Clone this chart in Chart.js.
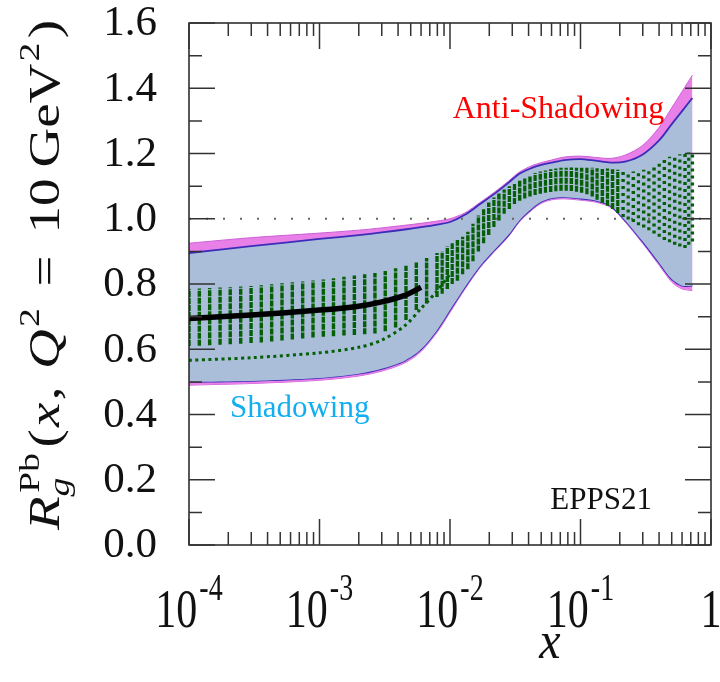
<!DOCTYPE html>
<html>
<head>
<meta charset="utf-8">
<script src="https://cdn.jsdelivr.net/npm/chart.js@4.4.1/dist/chart.umd.min.js"></script>
<style>
  html, body { margin: 0; padding: 0; background: #fff; }
  canvas { display: block; }
</style>
</head>
<body>
<canvas id="c" width="720" height="682"></canvas>
<script>
// ---------------- data ----------------
const bandX = [1e-4, 3e-4, 1e-3, 2e-3, 3e-3, 4.5e-3, 6e-3, 8e-3, 1e-2, 1.3e-2, 1.7e-2, 2.2e-2, 2.8e-2, 3.4e-2, 4.2e-2, 5e-2, 6e-2, 7.5e-2, 0.1, 0.13, 0.17, 0.22, 0.3, 0.4, 0.5, 0.6, 0.72];
const outerUpper = [0.925, 0.942, 0.956, 0.965, 0.972, 0.980, 0.986, 0.993, 1.000, 1.018, 1.050, 1.082, 1.115, 1.143, 1.162, 1.172, 1.180, 1.189, 1.192, 1.188, 1.185, 1.195, 1.225, 1.280, 1.340, 1.390, 1.440];
const innerUpper = [0.895, 0.916, 0.938, 0.950, 0.958, 0.967, 0.974, 0.982, 0.990, 1.012, 1.045, 1.077, 1.110, 1.138, 1.155, 1.165, 1.172, 1.180, 1.183, 1.178, 1.172, 1.175, 1.197, 1.240, 1.290, 1.330, 1.370];
const innerLower = [0.500, 0.503, 0.512, 0.525, 0.540, 0.565, 0.600, 0.660, 0.720, 0.790, 0.855, 0.905, 0.950, 0.995, 1.030, 1.052, 1.063, 1.066, 1.062, 1.056, 1.040, 0.995, 0.930, 0.865, 0.815, 0.795, 0.795];
const outerLower = [0.490, 0.495, 0.505, 0.518, 0.533, 0.558, 0.593, 0.653, 0.713, 0.784, 0.850, 0.900, 0.945, 0.990, 1.025, 1.047, 1.058, 1.061, 1.057, 1.051, 1.035, 0.990, 0.924, 0.858, 0.806, 0.785, 0.780];

const centralX = [1e-4, 3e-4, 1e-3, 2e-3, 3e-3, 4.5e-3, 6e-3, 8e-3, 1e-2, 1.5e-2, 2.2e-2, 3.4e-2, 5e-2, 7.5e-2, 0.1, 0.15, 0.22, 0.3, 0.4, 0.5, 0.72];
const centralY = [0.694, 0.705, 0.720, 0.732, 0.745, 0.765, 0.790, 0.820, 0.850, 0.920, 1.000, 1.080, 1.115, 1.125, 1.120, 1.100, 1.080, 1.065, 1.055, 1.050, 1.050];

// replica spread at each x grid column
const colX = [1.00e-4, 1.20e-4, 1.44e-4, 1.73e-4, 2.07e-4, 2.49e-4, 2.99e-4, 3.58e-4, 4.30e-4, 5.16e-4, 6.19e-4, 7.43e-4, 8.92e-4, 1.07e-3, 1.28e-3, 1.54e-3, 1.85e-3, 2.22e-3, 2.66e-3, 3.19e-3, 3.83e-3, 4.60e-3, 5.52e-3, 6.62e-3, 7.95e-3, 9.54e-3, 1.14e-2, 1.37e-2, 1.65e-2, 1.98e-2, 2.37e-2, 2.85e-2, 3.42e-2, 4.10e-2, 4.92e-2, 5.91e-2, 7.09e-2, 8.51e-2, 0.102, 0.123, 0.147, 0.176, 0.212, 0.254, 0.305, 0.366, 0.439, 0.527, 0.632, 0.720];
const colLow  = [0.610, 0.611, 0.612, 0.614, 0.615, 0.617, 0.619, 0.621, 0.624, 0.627, 0.630, 0.633, 0.636, 0.638, 0.640, 0.642, 0.644, 0.646, 0.648, 0.655, 0.667, 0.690, 0.720, 0.740, 0.760, 0.785, 0.810, 0.845, 0.900, 0.950, 0.995, 1.030, 1.055, 1.068, 1.077, 1.082, 1.086, 1.085, 1.080, 1.068, 1.048, 1.030, 1.005, 0.990, 0.973, 0.955, 0.935, 0.920, 0.910, 0.930];
const colHigh = [0.785, 0.786, 0.788, 0.789, 0.790, 0.792, 0.794, 0.796, 0.799, 0.802, 0.805, 0.808, 0.811, 0.814, 0.818, 0.822, 0.826, 0.830, 0.834, 0.840, 0.848, 0.856, 0.866, 0.880, 0.895, 0.915, 0.935, 0.960, 1.010, 1.050, 1.080, 1.100, 1.117, 1.132, 1.145, 1.152, 1.156, 1.157, 1.156, 1.156, 1.155, 1.152, 1.148, 1.145, 1.150, 1.165, 1.185, 1.195, 1.200, 1.205];

// denser replica cloud at larger x (between the grid columns above)
const col2X = [8.71e-3, 1.04e-2, 1.25e-2, 1.50e-2, 1.81e-2, 2.17e-2, 2.60e-2, 3.12e-2, 3.74e-2, 4.49e-2, 5.39e-2, 6.47e-2, 7.77e-2, 9.32e-2, 0.112, 0.134, 0.161, 0.193, 0.232, 0.278, 0.334, 0.401, 0.481, 0.577, 0.675];
const col2Low  = [0.770, 0.800, 0.830, 0.870, 0.925, 0.975, 1.015, 1.045, 1.062, 1.073, 1.080, 1.084, 1.086, 1.083, 1.075, 1.058, 1.040, 1.018, 0.998, 0.980, 0.965, 0.945, 0.928, 0.915, 0.920];
const col2High = [0.900, 0.925, 0.945, 0.985, 1.030, 1.065, 1.090, 1.108, 1.125, 1.140, 1.148, 1.154, 1.156, 1.156, 1.156, 1.155, 1.154, 1.150, 1.146, 1.147, 1.155, 1.175, 1.190, 1.198, 1.203];

// one outlying replica at small x
const outlierX = [1e-4, 3e-4, 1e-3, 2e-3, 3e-3, 4.5e-3, 6e-3, 8e-3, 1e-2];
const outlierY = [0.566, 0.574, 0.589, 0.606, 0.628, 0.672, 0.725, 0.780, 0.830];

const unityX = [1e-4, 1];
const unityY = [1, 1];

const yTickValues = [0, 0.2, 0.4, 0.6, 0.8, 1.0, 1.2, 1.4, 1.6];
const yTickLabels = ['0.0', '0.2', '0.4', '0.6', '0.8', '1.0', '1.2', '1.4', '1.6'];
const yMinorValues = [0.1, 0.3, 0.5, 0.7, 0.9, 1.1, 1.3, 1.5];
const xTickValues = [1e-4, 1e-3, 1e-2, 1e-1, 1];
const xTickBase = ['10', '10', '10', '10', '1'];
const xTickExp = ['-4', '-3', '-2', '-1', ''];
const xMinorMult = [2, 3, 4, 5, 6, 7, 8, 9];

const notes = [
  { text: 'Anti-Shadowing', x: 0.0105, y: 1.309, color: '#ff0000', align: 'left', size: 32 },
  { text: 'Shadowing', x: 2.06e-4, y: 0.392, color: '#12aef0', align: 'left', size: 31 },
  { text: 'EPPS21', x: 0.353, y: 0.110, color: '#111111', align: 'right', size: 31 }
];

// ---------------- build datasets ----------------
const pts = (xs, ys) => xs.map((x, i) => ({ x: x, y: ys[i] }));
const columns = (xs, lo, hi) => {
  const out = [];
  xs.forEach((x, i) => {
    out.push({ x: x, y: lo[i] });
    out.push({ x: x, y: hi[i] });
    out.push({ x: x, y: null });
  });
  return out;
};

const MAG = 'rgb(232,128,232)';
const BLUE = 'rgb(170,189,217)';
const EDGE = 'rgb(60,45,185)';
const GREEN = 'rgb(5,95,5)';

const base = { showLine: true, pointRadius: 0, pointHoverRadius: 0, tension: 0.3 };
const colDash = c => (c.p0.parsed.x > 0.2 ? [3, 4] : [6, 1]);

const datasets = [
  Object.assign({}, base, { data: pts(bandX, outerUpper), borderColor: 'rgb(205,95,215)', borderWidth: 1, backgroundColor: MAG, fill: '+1', order: 10 }),
  Object.assign({}, base, { data: pts(bandX, outerLower), borderColor: 'rgb(205,95,215)', borderWidth: 1, fill: false, order: 10 }),
  Object.assign({}, base, { data: pts(bandX, innerUpper), borderColor: EDGE, borderWidth: 1.8, backgroundColor: BLUE, fill: '+1', order: 9 }),
  Object.assign({}, base, { data: pts(bandX, innerLower), borderColor: EDGE, borderWidth: 1.8, fill: false, order: 9 }),
  Object.assign({}, base, { data: pts(unityX, unityY), borderColor: '#666', borderWidth: 2, borderDash: [2, 15], tension: 0, fill: false, order: 8 }),
  Object.assign({}, base, { data: columns(colX, colLow, colHigh), borderColor: GREEN, borderWidth: 3.4, tension: 0, spanGaps: false, fill: false, order: 5,
    segment: { borderDash: colDash } }),
  Object.assign({}, base, { data: columns(col2X, col2Low, col2High), borderColor: GREEN, borderWidth: 3.2, tension: 0, spanGaps: false, fill: false, order: 5,
    segment: { borderDash: colDash } }),
  Object.assign({}, base, { data: pts(outlierX, outlierY), borderColor: GREEN, borderWidth: 3, borderDash: [3, 3.5], fill: false, order: 5 }),
  Object.assign({}, base, { data: pts(centralX, centralY), borderColor: '#000', borderWidth: 5.5, fill: false, order: 1,
    segment: { borderColor: c => (c.p0.parsed.x >= 5e-3 ? 'rgba(0,0,0,0)' : '#000') } })
];

const SERIF = '"Liberation Serif", "Times New Roman", serif';

const overlay = {
  id: 'overlay',
  beforeDraw(chart) {
    const ctx = chart.ctx;
    ctx.save();
    ctx.fillStyle = '#fff';
    ctx.fillRect(0, 0, chart.width, chart.height);
    ctx.restore();
  },
  afterDatasetsDraw(chart) {
    const ctx = chart.ctx;
    const a = chart.chartArea;
    const xs = chart.scales.x, ys = chart.scales.y;
    ctx.save();

    // annotations
    notes.forEach(n => {
      ctx.font = n.size + 'px ' + SERIF;
      ctx.fillStyle = n.color;
      ctx.textAlign = n.align;
      ctx.textBaseline = 'alphabetic';
      ctx.fillText(n.text, xs.getPixelForValue(n.x), ys.getPixelForValue(n.y));
    });

    // frame
    ctx.strokeStyle = '#222';
    ctx.lineWidth = 1.5;
    ctx.strokeRect(a.left, a.top, a.right - a.left, a.bottom - a.top);

    // ticks (inward)
    ctx.strokeStyle = '#333';
    ctx.lineWidth = 1.5;
    ctx.beginPath();
    const yTick = (v, len) => {
      const p = ys.getPixelForValue(v);
      ctx.moveTo(a.left, p); ctx.lineTo(a.left + len, p);
      ctx.moveTo(a.right, p); ctx.lineTo(a.right - len, p);
    };
    const xTick = (v, len) => {
      const p = xs.getPixelForValue(v);
      ctx.moveTo(p, a.bottom); ctx.lineTo(p, a.bottom - len);
      ctx.moveTo(p, a.top); ctx.lineTo(p, a.top + len);
    };
    yTickValues.forEach(v => yTick(v, 26));
    yMinorValues.forEach(v => yTick(v, 13));
    xTickValues.forEach(v => xTick(v, 26));
    xTickValues.slice(0, -1).forEach(d => xMinorMult.forEach(m => xTick(d * m, 13)));
    ctx.stroke();

    // y tick labels
    ctx.fillStyle = '#111';
    ctx.font = '43px ' + SERIF;
    ctx.textAlign = 'right';
    ctx.textBaseline = 'middle';
    yTickValues.forEach((v, i) => ctx.fillText(yTickLabels[i], a.left - 32, ys.getPixelForValue(v) + 1));

    // x tick labels (10^n)
    ctx.textAlign = 'left';
    ctx.textBaseline = 'alphabetic';
    xTickValues.forEach((v, i) => {
      const p = xs.getPixelForValue(v);
      ctx.font = '42px ' + SERIF;
      const wb = ctx.measureText(xTickBase[i]).width;
      ctx.font = '28px ' + SERIF;
      const we = xTickExp[i] ? ctx.measureText(xTickExp[i]).width + 2 : 0;
      const x0 = p - (wb + we) / 2;
      ctx.save();
      ctx.translate(x0, a.bottom + 82);
      ctx.scale(1, 1.33);
      ctx.font = '42px ' + SERIF;
      ctx.fillText(xTickBase[i], 0, 0);
      if (xTickExp[i]) {
        ctx.font = '28px ' + SERIF;
        ctx.fillText(xTickExp[i], wb + 2, -20);
      }
      ctx.restore();
    });

    // x axis title
    ctx.save();
    ctx.font = 'italic 48px ' + SERIF;
    ctx.textAlign = 'center';
    ctx.translate(550, a.bottom + 113);
    ctx.scale(1, 1.1);
    ctx.fillText('x', 0, 0);
    ctx.restore();

    // y axis title: R_g^Pb(x, Q^2 = 10 GeV^2)
    const parts = [
      { t: 'R', f: 'italic 44px', dy: 0, gap: 0 },
      { t: 'g', f: 'italic 30px', dy: 10, stack: true, gap: 0 },
      { t: 'Pb', f: '30px', dy: -20, stackTop: true, gap: 0 },
      { t: '(', f: '44px', dy: 0, gap: 0.2 },
      { t: 'x', f: 'italic 44px', dy: 0, gap: 0.1 },
      { t: ',', f: '44px', dy: 0, gap: 0.1 },
      { t: 'Q', f: 'italic 44px', dy: 0, gap: 0.8 },
      { t: '2', f: '30px', dy: -20, gap: 0.1 },
      { t: '=', f: '44px', dy: 0, gap: 1 },
      { t: '10', f: '44px', dy: 0, gap: 1 },
      { t: 'GeV', f: '44px', dy: 0, gap: 0.5 },
      { t: '2', f: '30px', dy: -20, gap: 0.1 },
      { t: ')', f: '44px', dy: 0, gap: 0.2 }
    ];
    const sx = 1.25;
    const span = 510 / sx;
    const widths = [];
    let natural = 0, pend = 0, gapSum = 0;
    parts.forEach(pt => {
      ctx.font = pt.f + ' ' + SERIF;
      const w = ctx.measureText(pt.t).width;
      widths.push(w);
      gapSum += pt.gap;
      if (pt.stack) pend = w;
      else if (pt.stackTop) { natural += Math.max(pend, w + 3) + 1; pend = 0; }
      else natural += w;
    });
    const unit = Math.max(0, (span - natural) / gapSum);
    let cur = 0;
    const place = [];
    parts.forEach((pt, i) => {
      cur += pt.gap * unit;
      if (pt.stack) { place.push(cur); pend = widths[i]; }
      else if (pt.stackTop) { place.push(cur + 3); cur += Math.max(pend, widths[i] + 3) + 1; }
      else { place.push(cur); cur += widths[i]; }
    });
    ctx.save();
    ctx.translate(59, 530);
    ctx.rotate(-Math.PI / 2);
    ctx.scale(sx, 1);
    ctx.fillStyle = '#111';
    ctx.textAlign = 'left';
    parts.forEach((pt, i) => {
      ctx.font = pt.f + ' ' + SERIF;
      ctx.fillText(pt.t, place[i], pt.dy);
    });
    ctx.restore();

    ctx.restore();
  }
};

new Chart(document.getElementById('c'), {
  type: 'scatter',
  data: { datasets: datasets },
  options: {
    responsive: false,
    devicePixelRatio: 1,
    animation: false,
    layout: { padding: { left: 189, right: 9, top: 23, bottom: 137 } },
    plugins: { legend: { display: false }, tooltip: { enabled: false } },
    scales: {
      x: { type: 'logarithmic', min: 1e-4, max: 1, display: false },
      y: { type: 'linear', min: 0, max: 1.6, display: false }
    }
  },
  plugins: [overlay]
});
</script>
</body>
</html>
